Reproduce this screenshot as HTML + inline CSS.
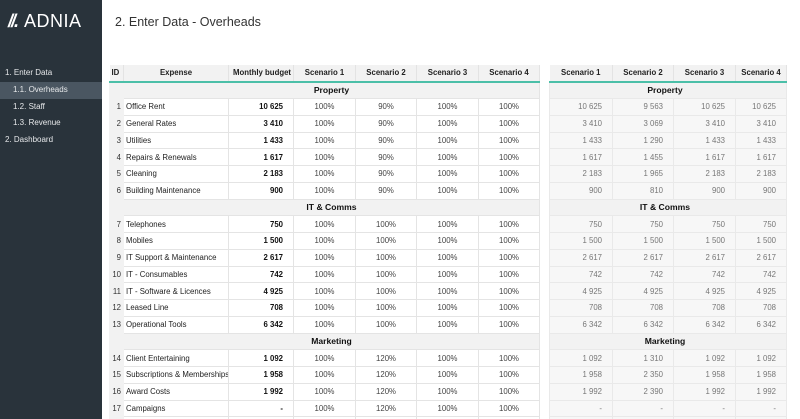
<!DOCTYPE html>
<html><head><meta charset="utf-8"><style>
*{margin:0;padding:0;box-sizing:border-box}
html,body{width:800px;height:419px;overflow:hidden}
body{background:#fff;font-family:"Liberation Sans",sans-serif;position:relative}
#sb{position:absolute;left:0;top:0;width:102px;height:419px;background:#29333b}
#logo{position:absolute;left:8px;top:11px;color:#fff;font-size:18px;letter-spacing:0.5px}
#logo b{font-style:italic;font-weight:900;margin-right:7px;letter-spacing:-2px}
.nav{position:absolute;left:0;width:102px;height:16.7px;line-height:16.7px;color:#e6e8ea;font-size:8px}
.act{background:#4a5661}
#title{position:absolute;left:115px;top:15px;font-size:12.5px;color:#333}
table{position:absolute;border-collapse:collapse;table-layout:fixed;font-size:7.8px}
td,th{height:16.75px;padding:0 4px;white-space:nowrap;overflow:hidden}
#L{left:109px;top:65px;width:430px}
#L th{background:#f2f2f2;font-weight:bold;color:#222;border-bottom:2px solid #4bbfa8;border-right:1px solid #e3e3e3;text-align:center}
#L td{border:1px solid #e4e4e4;color:#444;text-align:center;background:#fff}
#L td.id{background:#f2f2f2;border-color:#f2f2f2;text-align:right;padding:0 2px;color:#333}
#L td.e{text-align:left;color:#222;padding-left:2px}
#L td.b{text-align:right;color:#111;font-weight:bold;padding-right:10px}
#L td.s,#R td.s{background:#f2f2f2;font-weight:bold;color:#111;font-size:8.6px;text-align:center}
#R{left:549px;top:65px;width:237px}
#R th{background:#f2f2f2;font-weight:bold;color:#222;border-bottom:2px solid #4bbfa8;border-right:1px solid #e3e3e3;text-align:center}
#R td{background:#f7f7f7;border:1px solid #e9e9e9;color:#777;text-align:right;padding-right:10px}
</style></head><body>
<div id="sb">
<div id="logo"><b>//.</b>ADNIA</div>
<div class="nav" style="top:65px;padding-left:5px">1. Enter Data</div>
<div class="nav act" style="top:82px;padding-left:13px">1.1. Overheads</div>
<div class="nav" style="top:98.5px;padding-left:13px">1.2. Staff</div>
<div class="nav" style="top:115px;padding-left:13px">1.3. Revenue</div>
<div class="nav" style="top:132px;padding-left:5px">2. Dashboard</div>
</div>
<div id="title">2. Enter Data - Overheads</div>
<table id="L">
<colgroup><col style="width:14px"><col style="width:105px"><col style="width:65px"><col style="width:62px"><col style="width:61px"><col style="width:62px"><col style="width:61px"></colgroup>
<tr><th style="text-align:left;padding:0 2px">ID</th><th>Expense</th><th>Monthly budget</th><th>Scenario 1</th><th>Scenario 2</th><th>Scenario 3</th><th>Scenario 4</th></tr>
<tr><td class="id"></td><td class="s" colspan="6">Property</td></tr>
<tr><td class="id">1</td><td class="e">Office Rent</td><td class="b">10 625</td><td>100%</td><td>90%</td><td>100%</td><td>100%</td></tr>
<tr><td class="id">2</td><td class="e">General Rates</td><td class="b">3 410</td><td>100%</td><td>90%</td><td>100%</td><td>100%</td></tr>
<tr><td class="id">3</td><td class="e">Utilities</td><td class="b">1 433</td><td>100%</td><td>90%</td><td>100%</td><td>100%</td></tr>
<tr><td class="id">4</td><td class="e">Repairs &amp; Renewals</td><td class="b">1 617</td><td>100%</td><td>90%</td><td>100%</td><td>100%</td></tr>
<tr><td class="id">5</td><td class="e">Cleaning</td><td class="b">2 183</td><td>100%</td><td>90%</td><td>100%</td><td>100%</td></tr>
<tr><td class="id">6</td><td class="e">Building Maintenance</td><td class="b">900</td><td>100%</td><td>90%</td><td>100%</td><td>100%</td></tr>
<tr><td class="id"></td><td class="s" colspan="6">IT &amp; Comms</td></tr>
<tr><td class="id">7</td><td class="e">Telephones</td><td class="b">750</td><td>100%</td><td>100%</td><td>100%</td><td>100%</td></tr>
<tr><td class="id">8</td><td class="e">Mobiles</td><td class="b">1 500</td><td>100%</td><td>100%</td><td>100%</td><td>100%</td></tr>
<tr><td class="id">9</td><td class="e">IT Support &amp; Maintenance</td><td class="b">2 617</td><td>100%</td><td>100%</td><td>100%</td><td>100%</td></tr>
<tr><td class="id">10</td><td class="e">IT - Consumables</td><td class="b">742</td><td>100%</td><td>100%</td><td>100%</td><td>100%</td></tr>
<tr><td class="id">11</td><td class="e">IT - Software &amp; Licences</td><td class="b">4 925</td><td>100%</td><td>100%</td><td>100%</td><td>100%</td></tr>
<tr><td class="id">12</td><td class="e">Leased Line</td><td class="b">708</td><td>100%</td><td>100%</td><td>100%</td><td>100%</td></tr>
<tr><td class="id">13</td><td class="e">Operational Tools</td><td class="b">6 342</td><td>100%</td><td>100%</td><td>100%</td><td>100%</td></tr>
<tr><td class="id"></td><td class="s" colspan="6">Marketing</td></tr>
<tr><td class="id">14</td><td class="e">Client Entertaining</td><td class="b">1 092</td><td>100%</td><td>120%</td><td>100%</td><td>100%</td></tr>
<tr><td class="id">15</td><td class="e">Subscriptions &amp; Memberships</td><td class="b">1 958</td><td>100%</td><td>120%</td><td>100%</td><td>100%</td></tr>
<tr><td class="id">16</td><td class="e">Award Costs</td><td class="b">1 992</td><td>100%</td><td>120%</td><td>100%</td><td>100%</td></tr>
<tr><td class="id">17</td><td class="e">Campaigns</td><td class="b">-</td><td>100%</td><td>120%</td><td>100%</td><td>100%</td></tr>
<tr><td class="id"></td><td class="e"></td><td class="b"></td><td></td><td></td><td></td><td></td></tr>
</table>
<table id="R">
<colgroup><col style="width:63px"><col style="width:61px"><col style="width:62px"><col style="width:51px"></colgroup>
<tr><th>Scenario 1</th><th>Scenario 2</th><th>Scenario 3</th><th>Scenario 4</th></tr>
<tr><td class="s" colspan="4">Property</td></tr>
<tr><td>10 625</td><td>9 563</td><td>10 625</td><td>10 625</td></tr>
<tr><td>3 410</td><td>3 069</td><td>3 410</td><td>3 410</td></tr>
<tr><td>1 433</td><td>1 290</td><td>1 433</td><td>1 433</td></tr>
<tr><td>1 617</td><td>1 455</td><td>1 617</td><td>1 617</td></tr>
<tr><td>2 183</td><td>1 965</td><td>2 183</td><td>2 183</td></tr>
<tr><td>900</td><td>810</td><td>900</td><td>900</td></tr>
<tr><td class="s" colspan="4">IT &amp; Comms</td></tr>
<tr><td>750</td><td>750</td><td>750</td><td>750</td></tr>
<tr><td>1 500</td><td>1 500</td><td>1 500</td><td>1 500</td></tr>
<tr><td>2 617</td><td>2 617</td><td>2 617</td><td>2 617</td></tr>
<tr><td>742</td><td>742</td><td>742</td><td>742</td></tr>
<tr><td>4 925</td><td>4 925</td><td>4 925</td><td>4 925</td></tr>
<tr><td>708</td><td>708</td><td>708</td><td>708</td></tr>
<tr><td>6 342</td><td>6 342</td><td>6 342</td><td>6 342</td></tr>
<tr><td class="s" colspan="4">Marketing</td></tr>
<tr><td>1 092</td><td>1 310</td><td>1 092</td><td>1 092</td></tr>
<tr><td>1 958</td><td>2 350</td><td>1 958</td><td>1 958</td></tr>
<tr><td>1 992</td><td>2 390</td><td>1 992</td><td>1 992</td></tr>
<tr><td>-</td><td>-</td><td>-</td><td>-</td></tr>
<tr><td></td><td></td><td></td><td></td></tr>
</table>
</body></html>
